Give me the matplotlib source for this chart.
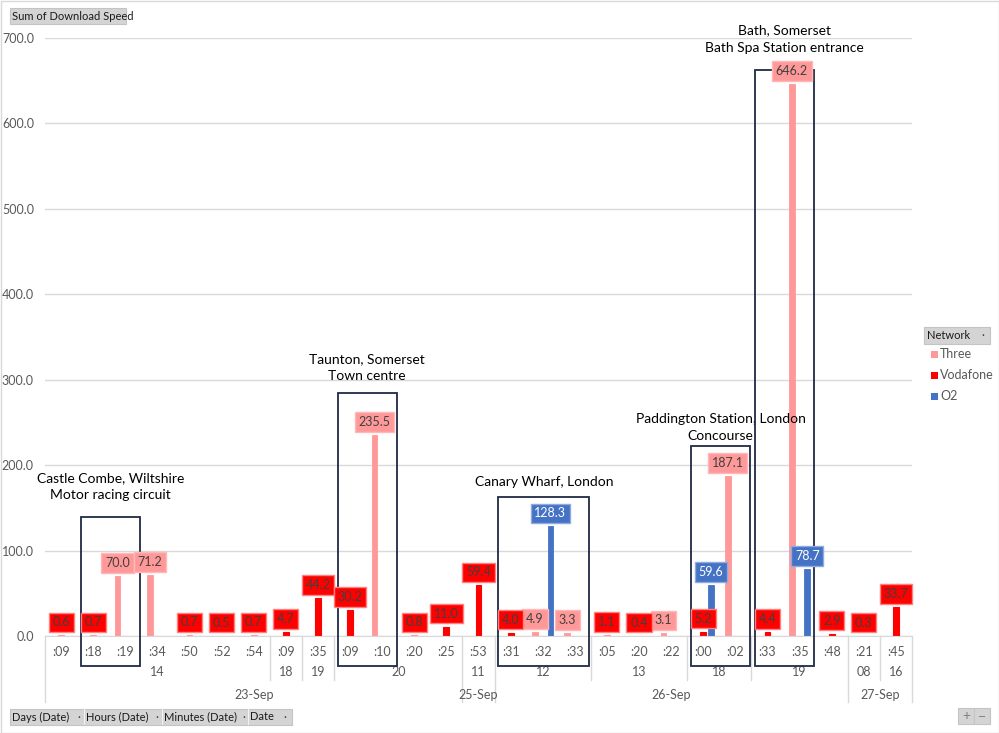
import numpy as np
import matplotlib.pyplot as plt
from matplotlib.patches import Rectangle
from matplotlib.transforms import blended_transform_factory

plt.rcParams['font.family'] = ['Lato', 'DejaVu Sans']

# x axis levels (minute / hour / day)
minutes = [':09', ':18', ':19', ':34', ':50', ':52', ':54', ':09', ':35', ':09', ':10', ':20', ':25',
           ':53', ':31', ':32', ':33', ':05', ':20', ':22', ':00', ':02', ':33', ':35', ':48', ':21', ':45']
hours = ['14'] * 7 + ['18', '19'] + ['20'] * 4 + ['11'] + ['12'] * 3 + ['13'] * 3 + ['18'] * 2 + ['19'] * 3 + ['08', '16']
days = ['23-Sep'] * 13 + ['25-Sep'] + ['26-Sep'] * 11 + ['27-Sep'] * 2

nan = np.nan
# Sum of Download Speed per network
three = [nan, nan, 70.0, 71.2, nan, nan, nan, nan, nan, nan, 235.5, nan, nan,
         nan, nan, 4.9, 3.3, nan, nan, 3.1, nan, 187.1, nan, 646.2, nan, nan, nan]
vodafone = [0.6, 0.7, nan, nan, 0.7, 0.5, 0.7, 4.7, 44.2, 30.2, nan, 0.8, 11.0,
            59.4, 4.0, nan, nan, 1.1, 0.4, nan, 5.2, nan, 4.4, nan, 2.9, 0.3, 33.7]
o2 = [nan] * 15 + [128.3] + [nan] * 4 + [59.6] + [nan] * 2 + [78.7] + [nan] * 3

# location call-outs: first category, last category, box top, text, text gap (px)
callouts = [
    (1, 2, 139, 'Castle Combe, Wiltshire\nMotor racing circuit', 16),
    (9, 10, 284, 'Taunton, Somerset\nTown centre', 11),
    (14, 16, 163, 'Canary Wharf, London', 9),
    (20, 21, 222, 'Paddington Station, London\nConcourse', 4),
    (22, 23, 663, 'Bath, Somerset\nBath Spa Station entrance', 16),
]

C_THREE = '#FF9999'
C_VODA = '#FF0000'
C_O2 = '#4472C4'
GRID = '#D9D9D9'
TXT = '#595959'

W, H = 999, 733
fig = plt.figure(figsize=(W / 100, H / 100), dpi=100)
ax = fig.add_axes([45 / W, 97 / H, 867 / W, 598 / H])

x = np.arange(len(minutes))
bw = 0.18
off = 0.24
three_a = np.array(three)
voda_a = np.array(vodafone)
o2_a = np.array(o2)

# tiny vodafone entries show up pink in the original
voda_cols = [C_THREE if v < 2 else C_VODA for v in np.nan_to_num(voda_a)]

ax.bar(x - off, np.nan_to_num(three_a), bw, color=C_THREE, edgecolor=C_THREE, linewidth=0.6, zorder=2)
ax.bar(x, np.nan_to_num(voda_a), bw, color=voda_cols, edgecolor=voda_cols, linewidth=0.8, zorder=2)
ax.bar(x + off, np.nan_to_num(o2_a), bw, color=C_O2, edgecolor=C_O2, linewidth=0.6, zorder=2)


def labels(xs, vals, fc, ec, tc):
    for xi, v in zip(xs, vals):
        if np.isnan(v):
            continue
        ax.annotate(f'{v:.1f}', (xi, v), xytext=(0, 13), textcoords='offset pixels',
                    ha='center', va='center', fontsize=9, color=tc, zorder=5,
                    bbox=dict(boxstyle='square,pad=0.3', fc=fc, ec=ec, lw=1))


labels(x - off, three_a, C_THREE, '#FFB8B8', '#404040')
labels(x, voda_a, C_VODA, '#FF8080', '#404040')
labels(x + off, o2_a, C_O2, '#8FAADC', 'white')

ax.set_xlim(-0.5, len(minutes) - 0.5)
ax.set_ylim(0, 700)
ax.set_yticks(np.arange(0, 701, 100))
ax.set_yticklabels([f'{t:.1f}' for t in np.arange(0, 701, 100)])
ax.tick_params(axis='y', length=0, colors=TXT, labelsize=9, pad=8)
ax.set_xticks([])
ax.yaxis.grid(True, color=GRID, lw=1)
ax.set_axisbelow(True)
for s in ['top', 'right', 'left']:
    ax.spines[s].set_visible(False)
ax.spines['bottom'].set_color(GRID)

# multi-level category axis
tr = blended_transform_factory(ax.transData, ax.transAxes)
for i, m in enumerate(minutes):
    ax.text(i, -0.026, m, transform=tr, ha='center', va='center', fontsize=9, color=TXT)

n = len(minutes)
start = 0
for i in range(1, n + 1):
    if i == n or hours[i] != hours[start] or days[i] != days[start]:
        ax.text((start + i - 1) / 2, -0.061, hours[start], transform=tr,
                ha='center', va='center', fontsize=9, color=TXT)
        start = i
start = 0
for i in range(1, n + 1):
    if i == n or days[i] != days[start]:
        ax.text((start + i - 1) / 2, -0.099, days[start], transform=tr,
                ha='center', va='center', fontsize=9, color=TXT)
        start = i
for i in range(n + 1):
    if i == 0 or i == n or days[i] != days[i - 1]:
        low = -0.111
    elif hours[i] != hours[i - 1]:
        low = -0.074
    else:
        continue
    ax.plot([i - 0.5, i - 0.5], [0, low], transform=tr, color=GRID, lw=1, clip_on=False)

# call-out boxes
for a, b, top, txt, gap in callouts:
    x0, x1 = a - 0.38, b + 0.45
    ax.add_patch(Rectangle((x0, -35), x1 - x0, top + 35, fill=False, ec='#1F2A44',
                           lw=1.3, clip_on=False, zorder=4))
    ax.annotate(txt, ((x0 + x1) / 2, top), xytext=(0, gap), textcoords='offset pixels',
                ha='center', va='bottom', fontsize=10, color='black', linespacing=1.55,
                annotation_clip=False)


# pivot chart chrome
def frect(x0, y0, x1, y1, **kw):
    fig.patches.append(Rectangle((x0 / W, 1 - y1 / H), (x1 - x0) / W, (y1 - y0) / H,
                                 transform=fig.transFigure, **kw))


def ftext(px, py, s, **kw):
    fig.text(px / W, 1 - py / H, s, va='center', **kw)


BTN = dict(fc='#D4D4D4', ec='#C4C4C4', lw=0.8)
frect(10, 8, 126, 24, **BTN)
ftext(12, 16, 'Sum of Download Speed', fontsize=8, color='#1A1A1A')

frect(924, 327, 990, 344, **BTN)
ftext(927, 335.5, 'Network', fontsize=8, color='#1A1A1A')
ftext(981, 335.5, '·', fontsize=8, color='#404040')
for yy, name, c in [(354, 'Three', C_THREE), (375, 'Vodafone', C_VODA), (396, 'O2', C_O2)]:
    frect(931, yy - 3.5, 938, yy + 3.5, fc=c, ec='none')
    ftext(940, yy, name, fontsize=9, color=TXT)

frect(10, 709, 292, 725, **BTN)
for sx, lab, dx in [(10, 'Days (Date)', 77), (84, 'Hours (Date)', 155),
                    (162, 'Minutes (Date)', 242), (248, 'Date', 283)]:
    if sx > 10:
        frect(sx - 0.5, 709, sx + 0.5, 725, fc='#F2F2F2', ec='none')
    ftext(sx + 2, 717, lab, fontsize=8, color='#1A1A1A')
    ftext(dx, 717, '·', fontsize=8, color='#404040')

frect(958, 708, 974, 724, **BTN)
frect(974, 708, 990, 724, **BTN)
ftext(966, 716, '+', fontsize=10, color='#808080', ha='center')
ftext(982, 716, '−', fontsize=10, color='#808080', ha='center')

frect(0.5, 0.5, W - 0.5, H - 0.5, fill=False, ec=GRID, lw=1)

fig.savefig('out.png', dpi=100, facecolor='white')
